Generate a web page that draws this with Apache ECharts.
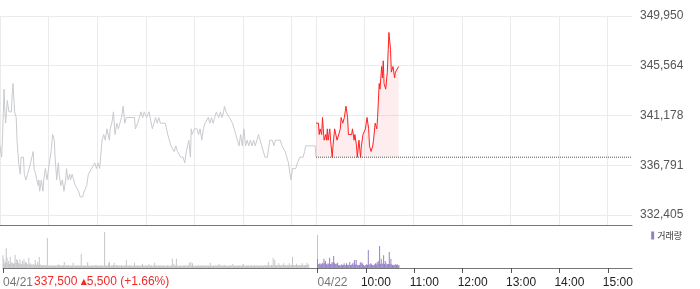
<!DOCTYPE html>
<html><head><meta charset="utf-8">
<script src="https://cdn.jsdelivr.net/npm/echarts@6/dist/echarts.min.js"></script>
<style>html,body{margin:0;padding:0;background:#fff}#c{width:700px;height:289px}</style>
</head><body><div id="c"></div>
<script>
// ---- data ----
const prevClose = 337500;
const yTicks = [332405, 336791, 341178, 345564, 349950];
const gridTicks = [0,60,120,180,240,300,360,390,450,510,570,630,690,750];
const labelTicks = [0,390,450,510,570,630,690,750];
const tickLabels = ['04/21','04/22','10:00','11:00','12:00','13:00','14:00','15:00'];
const dayOffset = 390; // minutes of 04/21 session (09:00-15:30)

// 04/21: minutes since 09:00, price
const d1Min = [
0,2,3,5,6,7,9,11,14,15,
16,18,20,21,23,25,26,29,30,32,
34,36,38,41,42,44,47,48,49,51,
53,54,56,58,61,63,65,67,68,70,
72,73,75,77,79,81,82,84,86,87,
89,91,93,95,97,99,102,104,105,107,
109,111,113,115,117,119,121,123,126,128,
130,132,134,135,136,138,140,142,144,146,
148,150,152,154,156,166,167,170,172,174,
176,178,181,184,186,188,190,192,194,196,
198,204,207,209,211,213,215,217,219,221,
223,226,228,230,233,235,236,237,240,243,
245,247,249,251,253,255,257,259,261,263,
265,267,270,272,274,276,277,279,281,283,
285,287,289,291,293,295,297,299,301,303,
305,307,309,311,313,315,317,319,321,323,
325,327,330,332,333,336,338,340,343,346,
348,350,352,354,356,358,359,361,363,365,
367,370,372,374,376,377,380,389,390];
const d1Price = [
338500,337500,339000,343500,341500,340500,342500,341500,341500,343000,
344000,341500,341000,339000,337000,336000,337500,337500,336000,335500,
336000,336500,336500,338000,336500,336000,335000,335500,334500,335500,
334500,335500,336500,335500,337000,338000,339500,339000,337500,335500,
337000,336000,335000,335500,334500,335500,336500,335500,336000,335500,
336000,335500,335000,335000,334500,334000,334000,334500,334500,335000,
336000,336000,336500,336500,337000,336500,337000,336500,339000,339500,
339000,340000,340000,339000,340000,340500,341500,339500,340500,340000,
340500,341000,342000,340500,341000,341000,340000,340500,341000,341500,
341000,341500,341000,341500,341500,340000,340500,341000,340500,341000,
340500,340500,339500,339000,338500,338500,338000,338500,338000,338000,
337500,337500,337000,338000,339000,337500,340000,339500,340000,340000,
339500,340000,339000,340000,340500,340500,341000,340500,341000,340500,
341000,341500,341000,341500,341000,341500,342000,341500,341500,341000,
341000,340500,340000,339500,339000,338500,339500,338500,340000,338500,
339000,338500,339000,338500,339000,338500,339000,339500,339000,338500,
338500,337500,337500,338500,339000,339000,338500,339000,339000,339000,
338500,338500,338000,337500,337000,337000,335500,336500,336500,336500,
337000,337500,337500,337500,338000,338500,338500,338500,337500];

// 04/22: minutes since 09:00, price
const d2Min = [
0,3,4,5,7,8,9,10,12,13,
14,15,17,18,20,21,23,25,26,28,
30,31,33,35,36,37,39,40,42,44,
45,47,48,50,51,53,55,56,58,60,
61,63,65,66,68,70,71,73,75,76,
78,79,81,82,83,84,86,88,90,92,
93,95,97,98,100,102];
const d2Price = [
340500,340500,339500,340000,339500,341000,340000,339000,339500,339000,
340000,339000,340000,339000,337500,338500,340000,340000,339000,339000,
340000,341000,340500,341000,341500,342000,341000,339500,339500,339500,
340000,339000,339500,338500,337500,339000,337500,338500,339500,339500,
340000,341000,340000,338500,338000,338500,339000,340500,340000,341000,
344000,343500,345500,344500,346000,344000,343500,345000,348500,347000,
345000,345500,344500,345000,345000,345500];

// volume per minute (relative units)
const vol1 = [
127,87,45,60,197,103,50,70,40,110,
60,45,53,40,50,130,45,87,77,50,
40,87,43,35,70,40,87,38,60,53,
35,40,103,35,47,30,37,28,37,30,
80,37,30,60,30,110,37,28,27,25,
30,27,25,30,22,300,25,27,22,25,
22,27,25,20,28,22,25,30,22,37,
25,22,27,20,28,25,60,22,25,27,
22,30,25,20,27,22,25,53,22,25,
20,27,22,25,28,22,25,140,22,25,
27,20,25,22,28,60,22,25,20,27,
22,25,20,27,22,30,25,22,27,20,
25,22,28,20,25,22,360,25,22,27,
20,47,60,25,22,28,25,30,53,25,
22,30,25,20,27,22,25,28,20,25,
22,27,25,80,22,25,20,28,22,25,
20,25,22,53,25,20,27,22,25,20,
25,22,28,43,22,25,20,27,22,25,
20,43,25,22,27,20,25,22,53,25,
22,25,20,27,22,25,20,28,22,25,
20,25,22,20,27,22,25,20,22,25,
93,25,43,22,25,93,22,25,20,22,
25,20,22,27,22,25,20,27,22,25,
22,53,25,60,22,47,25,20,22,25,
20,25,22,27,20,25,22,28,20,25,
22,25,20,27,22,25,20,53,22,25,
20,25,22,27,20,25,22,28,40,25,
22,25,20,27,22,30,25,20,22,25,
20,25,22,27,20,40,22,25,20,25,
22,25,20,27,22,25,20,28,40,25,
22,20,25,22,27,20,25,22,28,20,
25,22,30,20,25,22,27,20,25,22,
28,20,25,22,27,25,30,22,25,60,
25,28,22,30,25,100,28,80,25,30,
28,25,47,30,25,28,30,25,47,28,
30,25,28,30,25,47,28,30,25,110,
30,28,25,30,43,28,30,25,28,30,
28,47,30,25,28,30,28,53,30,35];
const vol1Close = 330; // 15:30 closing auction
const vol2 = [
90,37,40,47,35,37,53,40,93,50,
70,37,35,47,40,103,37,40,60,45,
120,53,40,37,45,53,27,30,20,30,
37,27,30,47,30,27,47,30,33,30,
60,27,30,40,53,30,80,35,80,33,
30,27,30,53,60,35,47,30,20,27,
30,37,30,180,37,30,47,37,30,27,
30,37,47,35,60,40,70,220,40,93,
47,40,127,40,70,47,35,37,40,160,
40,93,37,30,27,33,30,37,30,37,
20,30];
const closeText = '337,500';
const changeText = '5,500 (+1.66%)';

// ---- chart ----
const FONT = '"Liberation Sans", Arial, sans-serif';
const chart = echarts.init(document.getElementById('c'));
const line1 = d1Min.map((m, i) => [m, d1Price[i]]);
const line2 = d2Min.map((m, i) => [dayOffset + m, d2Price[i]]);
const bars1 = vol1.map((v, i) => [i, v]).concat([[dayOffset, vol1Close]]);
const bars2 = vol2.map((v, i) => [dayOffset + i, v]);
const yMin = yTicks[0] - (yTicks[1] - yTicks[0]) * 10 / 49.75;

chart.setOption({
  animation: false,
  textStyle: { fontFamily: FONT },
  grid: [
    { left: 0, right: 68, top: 16, bottom: 64 },
    { left: 0, right: 68, top: 226, bottom: 21 }
  ],
  legend: {
    data: ['거래량'], right: 18, top: 231, padding: 0, selectedMode: false,
    icon: 'rect', itemWidth: 3, itemHeight: 8, itemGap: 0,
    textStyle: { fontFamily: '"Noto Sans CJK KR", sans-serif', fontSize: 9, color: '#333', padding: [0, 0, 0, -2] }
  },
  xAxis: [
    { type: 'value', gridIndex: 0, min: 0, max: 780,
      axisLine: { show: true, onZero: false, lineStyle: { color: '#777' } },
      axisTick: { show: false, customValues: gridTicks },
      axisLabel: { show: false, customValues: gridTicks },
      splitLine: { show: true, lineStyle: { color: '#ebebeb' } } },
    { type: 'value', gridIndex: 1, min: 0, max: 780,
      axisLine: { show: true, onZero: false, lineStyle: { color: '#777' } },
      axisTick: { show: true, length: 5, customValues: labelTicks, lineStyle: { color: '#555' } },
      axisLabel: { customValues: labelTicks, margin: 9, align: 'center',
        formatter: function (v) {
          const k = labelTicks.indexOf(v);
          const t = tickLabels[k];
          return k < 2 ? '{d|' + t + '}' : '{t|' + t + '}';
        },
        rich: {
          d: { color: '#777', fontSize: 12, fontFamily: FONT, padding: [0, 0, 0, 30] },
          t: { color: '#222', fontSize: 12, fontFamily: FONT, padding: [0, 0, 0, 20] }
        } },
      splitLine: { show: false } }
  ],
  yAxis: [
    { type: 'value', gridIndex: 0, position: 'right', min: yMin, max: yTicks[4],
      axisLine: { show: false },
      axisTick: { show: false, customValues: yTicks },
      axisLabel: { customValues: yTicks, color: '#555', fontSize: 12, margin: 8,
        formatter: v => Math.round(v).toLocaleString('en-US') },
      splitLine: { show: true, lineStyle: { color: '#ebebeb' } } },
    { type: 'value', gridIndex: 1, min: 0, max: 420, show: false }
  ],
  graphic: [{
    type: 'text', left: 34, top: 276,
    style: {
      text: '{a|' + closeText + ' }{b|▲}{a|' + changeText + '}',
      rich: {
        a: { fill: '#ee2a2a', fontSize: 12, fontFamily: FONT },
        b: { fill: '#ee2a2a', fontSize: 8, fontFamily: '"DejaVu Sans", sans-serif' }
      }
    }
  }],
  series: [
    { type: 'line', name: '04/21', xAxisIndex: 0, yAxisIndex: 0, data: line1,
      symbol: 'none', lineStyle: { color: '#c8cacf', width: 1 }, silent: true },
    { type: 'line', name: '04/22', xAxisIndex: 0, yAxisIndex: 0, data: line2,
      symbol: 'none', lineStyle: { color: '#ff2020', width: 1 },
      areaStyle: { origin: prevClose, color: 'rgba(245,60,80,0.13)' }, z: 3 },
    { type: 'line', name: 'prev', xAxisIndex: 0, yAxisIndex: 0,
      data: [[dayOffset, prevClose], [780, prevClose]],
      symbol: 'none', lineStyle: { color: '#555', width: 1, type: [1, 1] }, z: 4 },
    { type: 'bar', name: 'vol21', xAxisIndex: 1, yAxisIndex: 1, data: bars1,
      barWidth: 1, itemStyle: { color: '#c6c6ca' } },
    { type: 'bar', name: '거래량', xAxisIndex: 1, yAxisIndex: 1, data: bars2,
      barWidth: 1, barGap: '-100%', itemStyle: { color: '#9580c8' } }
  ]
});
</script></body></html>
